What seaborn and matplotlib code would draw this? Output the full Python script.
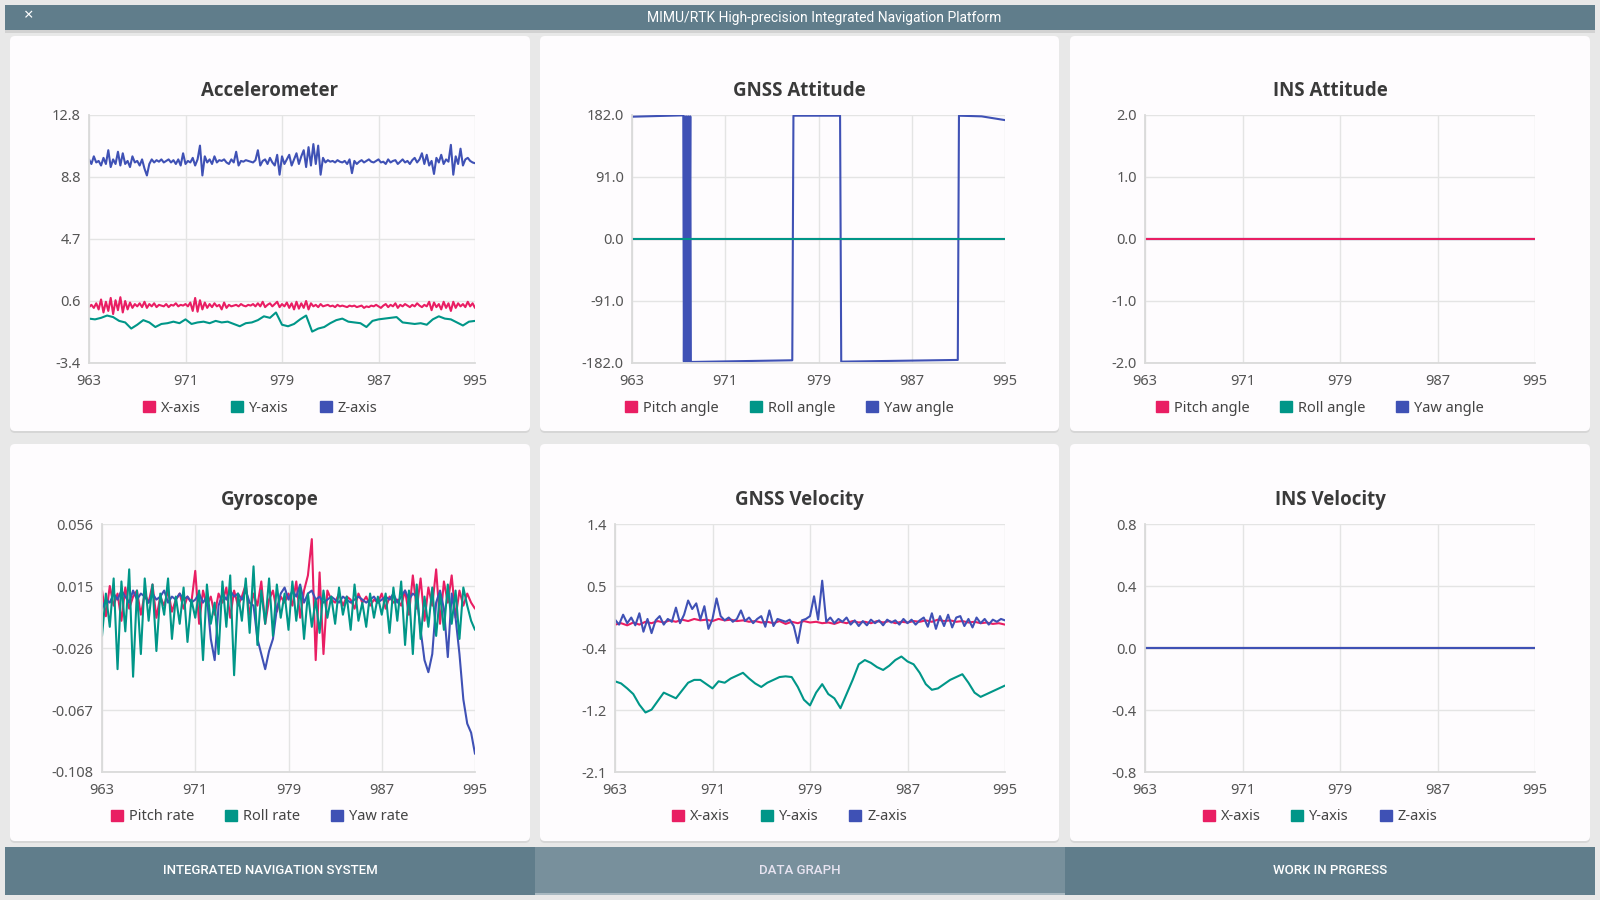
import numpy as np
import matplotlib
matplotlib.use("Agg")
import matplotlib.pyplot as plt
import seaborn as sns
from matplotlib.patches import FancyBboxPatch, Rectangle, Patch

# ---------------- data ----------------
x_ticks = [963, 971, 979, 987, 995]
x_labels = ["963", "971", "979", "987", "995"]

# Accelerometer (X and Z sampled every 0.2 s, Y every 0.5 s)
acc_yticks = [-3.4, 0.65, 4.7, 8.75, 12.8]
acc_ylabels = ["-3.4", "0.6", "4.7", "8.8", "12.8"]
acc_x = [0.25, 0.4, 0.2, 0.5, 0.1, 0.75, -0.1, 0.6, 0.0, 0.85,
         -0.2, 0.7, 0.05, 0.9, -0.1, 0.65, 0.1, 0.55, 0.2, 0.45,
         0.3, 0.5, 0.25, 0.6, 0.2, 0.45, 0.3, 0.5, 0.25, 0.4,
         0.35, 0.3, 0.45, 0.25, 0.4, 0.35, 0.5, 0.3, 0.4, 0.35,
         0.45, 0.3, 0.55, 0.0, 0.85, -0.05, 0.7, 0.1, 0.55, 0.2,
         0.45, 0.25, 0.5, 0.3, 0.4, 0.1, 0.55, 0.2, 0.4, 0.3,
         0.35, 0.4, 0.3, 0.45, 0.35, 0.3, 0.4, 0.35, 0.45, 0.3,
         0.5, 0.3, 0.6, 0.25, 0.4, 0.5, 0.3, 0.45, 0.6, 0.25,
         0.45, 0.3, 0.55, 0.2, 0.5, 0.1, 0.6, 0.15, 0.5, 0.2,
         0.65, 0.1, 0.5, 0.3, 0.4, 0.25, 0.45, 0.3, 0.35, 0.4,
         0.3, 0.35, 0.25, 0.4, 0.3, 0.35, 0.3, 0.25, 0.35, 0.3,
         0.35, 0.25, 0.3, 0.35, 0.2, 0.3, 0.25, 0.35, 0.3, 0.4,
         0.3, 0.2, 0.35, 0.45, 0.25, 0.4, 0.3, 0.5, 0.2, 0.4,
         0.3, 0.45, 0.35, 0.25, 0.4, 0.3, 0.5, 0.35, 0.25, 0.4,
         0.3, 0.6, 0.05, 0.55, 0.25, 0.45, 0.1, 0.6, 0.2, 0.5,
         0.0, 0.6, 0.2, 0.5, 0.3, 0.45, 0.25, 0.6, 0.3, 0.5,
         0.2]
acc_y = [-0.50, -0.55, -0.45, -0.30, -0.40, -0.65, -0.75, -1.15, -0.90, -0.60,
         -0.75, -1.05, -0.85, -0.80, -0.70, -0.80, -0.55, -0.85, -0.75, -0.70,
         -0.80, -0.65, -0.75, -0.70, -0.85, -1.00, -0.80, -0.75, -0.60, -0.35,
         -0.45, -0.10, -0.90, -1.00, -0.85, -0.55, -0.30, -1.35, -1.15, -1.05,
         -0.80, -0.60, -0.50, -0.70, -0.75, -0.80, -1.05, -0.65, -0.55, -0.50,
         -0.45, -0.40, -0.75, -0.80, -0.85, -0.80, -0.90, -0.55, -0.35, -0.50,
         -0.55, -0.75, -0.95, -0.70, -0.65]
acc_z = [9.9, 9.6, 10.1, 9.7, 9.8, 9.5, 10.0, 9.6, 10.5, 9.4,
         9.9, 9.6, 10.4, 9.5, 10.3, 9.6, 9.8, 9.4, 10.1, 9.7,
         9.8, 9.5, 9.9, 9.3, 8.85, 9.6, 9.9, 9.7, 9.85, 9.75,
         9.9, 9.7, 9.8, 9.9, 9.7, 9.85, 9.6, 9.9, 9.5, 10.3,
         9.6, 9.8, 9.7, 10.0, 9.5, 9.9, 10.8, 8.85, 10.1, 9.7,
         9.9, 9.6, 10.1, 9.7, 9.85, 9.8, 9.9, 9.7, 9.6, 9.9,
         9.7, 10.4, 9.5, 9.8, 9.75, 9.85, 9.8, 9.75, 9.7, 9.85,
         10.5, 9.5, 9.8, 9.9, 9.6, 10.0, 9.7, 9.5, 10.2, 8.9,
         10.1, 9.6, 9.9, 10.2, 9.5, 9.9, 10.3, 9.6, 10.1, 10.5,
         9.4, 10.7, 9.5, 10.9, 9.6, 10.8, 8.9, 10.0, 9.7, 9.85,
         9.75, 9.8, 9.7, 9.85, 9.75, 9.7, 9.8, 9.6, 9.9, 9.0,
         9.8, 9.6, 9.75, 9.85, 9.7, 9.8, 9.9, 9.75, 9.7, 9.8,
         9.9, 9.7, 9.75, 9.6, 9.9, 9.7, 9.8, 9.85, 9.6, 9.75,
         9.9, 9.7, 9.8, 9.6, 9.85, 10.0, 9.7, 9.9, 10.3, 9.6,
         10.2, 9.5, 9.8, 8.95, 10.0, 9.7, 10.2, 9.6, 9.9, 9.75,
         10.85, 8.9, 10.1, 9.6, 10.6, 9.5, 9.9, 10.0, 9.8, 9.7,
         9.65]

# GNSS attitude
gatt_yticks = [-182.0, -91.0, 0.0, 91.0, 182.0]
gatt_ylabels = ["-182.0", "-91.0", "0.0", "91.0", "182.0"]
gatt_flat_t = [963.0, 995.0]
gatt_pitch = [0.0, 0.0]
gatt_roll = [0.0, 0.0]
gatt_yaw_t = [963.0, 967.4, 967.45, 967.55, 967.6, 967.7, 967.75, 967.85, 967.9,
              968.0, 968.05, 976.75, 976.85, 980.85, 980.95, 990.95, 991.05,
              993.0, 995.0]
gatt_yaw = [179.5, 181.5, -180.0, 180.0, -180.0, 180.0, -180.0, 180.0, -180.0,
            180.0, -180.5, -178.0, 181.0, 181.0, -180.0, -177.5, 181.0,
            180.0, 174.5]

# INS attitude
iatt_yticks = [-2.0, -1.0, 0.0, 1.0, 2.0]
iatt_ylabels = ["-2.0", "-1.0", "0.0", "1.0", "2.0"]
iatt_t = [963.0, 995.0]
iatt_pitch = [0.0, 0.0]
iatt_roll = [0.0, 0.0]
iatt_yaw = [0.0, 0.0]

# Gyroscope
gyr_yticks = [-0.108, -0.067, -0.026, 0.015, 0.056]
gyr_ylabels = ["-0.108", "-0.067", "-0.026", "0.015", "0.056"]
gyr_pitch = [0.012, -0.005, 0.015, 0.002, 0.010, -0.008, 0.014, 0.000, 0.008, 0.012, -0.004, 0.010,
             0.004, 0.016, -0.006, 0.008, 0.002, 0.012, -0.002, 0.006, 0.010, 0.000, 0.008, 0.004,
             0.025, -0.010, 0.012, 0.002, 0.008, -0.004, 0.010, 0.004, 0.014, -0.006, 0.012, 0.002,
             0.008, 0.016, -0.004, 0.010, 0.002, 0.018, -0.010, 0.006, 0.012, -0.002, 0.008, 0.004,
             0.010, 0.002, 0.018, -0.006, 0.012, 0.022, 0.046, -0.034, 0.024, -0.030, 0.012, 0.006,
             0.004, 0.010, 0.002, 0.008, 0.006, 0.000, 0.010, 0.004, 0.008, 0.002, 0.006, 0.004,
             0.010, 0.000, 0.008, 0.004, 0.006, 0.002, 0.012, -0.004, 0.022, 0.000, 0.020, -0.008,
             0.014, 0.002, 0.026, -0.010, 0.018, 0.004, 0.022, -0.006, 0.012, 0.002, 0.010, 0.004, 0.000]
gyr_roll = [-0.018, 0.010, -0.012, 0.020, -0.040, 0.018, -0.015, 0.026, -0.045, 0.012, -0.030, 0.020,
            -0.008, 0.016, -0.028, 0.010, -0.004, 0.020, -0.020, 0.008, -0.010, 0.014, -0.022, 0.006,
            -0.006, 0.012, -0.034, 0.016, -0.010, 0.004, -0.030, 0.018, -0.012, 0.022, -0.044, 0.010,
            -0.008, 0.020, -0.016, 0.028, -0.024, 0.012, -0.010, 0.020, -0.018, 0.016, -0.006, 0.010,
            -0.014, 0.018, -0.008, 0.014, -0.020, 0.010, -0.012, 0.006, -0.016, 0.012, -0.006, 0.008,
            -0.010, 0.014, -0.004, 0.008, -0.014, 0.016, -0.008, 0.004, -0.012, 0.010, -0.006, 0.008,
            -0.004, 0.010, -0.016, 0.014, -0.008, 0.018, -0.024, 0.012, -0.030, 0.016, -0.020, 0.008,
            -0.012, 0.014, -0.018, 0.010, -0.014, 0.016, -0.010, 0.012, -0.020, 0.014, 0.002, -0.008, -0.014]
gyr_yaw = [0.000, 0.006, 0.004, 0.010, 0.006, 0.012, 0.008, 0.004, 0.012, 0.006, 0.010, 0.008,
           0.004, 0.010, 0.006, 0.008, 0.012, 0.004, 0.008, 0.006, 0.010, 0.006, 0.008, 0.004,
           0.006, 0.010, 0.004, 0.008, -0.020, -0.034, 0.002, 0.010, 0.006, 0.012, 0.008, 0.010,
           0.006, 0.012, 0.004, 0.002, -0.020, -0.030, -0.040, -0.028, -0.020, 0.000, 0.010, 0.014,
           0.006, 0.012, 0.008, 0.016, 0.004, 0.010, 0.012, 0.006, 0.008, 0.004, 0.006, 0.008,
           0.006, 0.004, 0.008, 0.006, 0.004, 0.006, 0.008, 0.006, 0.004, 0.006, 0.008, 0.004,
           0.006, 0.008, 0.006, 0.010, 0.004, 0.008, 0.012, 0.006, 0.010, 0.008, -0.014, -0.034,
           -0.042, -0.030, 0.004, 0.012, 0.000, -0.032, 0.010, -0.006, -0.030, -0.060, -0.076, -0.082, -0.096]

# GNSS velocity
gvel_yticks = [-2.1, -1.225, -0.35, 0.525, 1.4]
gvel_ylabels = ["-2.1", "-1.2", "-0.4", "0.5", "1.4"]
gvel_x = [-0.02, 0.00, -0.03, 0.01, -0.02, 0.02, 0.00, 0.03, 0.01, 0.04, 0.02, 0.05, 0.03,
          0.06, 0.04, 0.05, 0.03, 0.06, 0.04, 0.05, 0.03, 0.04, 0.02, 0.03, 0.01, 0.02,
          0.00, 0.03, -0.01, 0.02, 0.00, 0.03, 0.01, 0.02, 0.00, 0.01, -0.01, 0.02, 0.00,
          0.03, 0.01, 0.02, 0.00, 0.03, 0.01, 0.03, 0.00, 0.02, 0.01, 0.03, 0.02, 0.04,
          0.02, 0.05, 0.03, 0.04, 0.02, 0.03, 0.01, 0.02, 0.00, 0.01, -0.01, 0.00, -0.02]
gvel_y = [-0.82, -0.85, -0.92, -1.00, -1.15, -1.26, -1.22, -1.10, -0.98, -1.02, -1.06,
          -0.95, -0.84, -0.80, -0.80, -0.86, -0.92, -0.82, -0.84, -0.78, -0.74, -0.70,
          -0.78, -0.85, -0.90, -0.84, -0.80, -0.76, -0.75, -0.76, -0.90, -1.08, -1.16,
          -0.98, -0.86, -1.00, -1.06, -1.20, -1.00, -0.80, -0.58, -0.52, -0.56, -0.62,
          -0.66, -0.60, -0.52, -0.47, -0.54, -0.58, -0.70, -0.86, -0.94, -0.92, -0.86,
          -0.80, -0.76, -0.72, -0.84, -0.98, -1.04, -1.00, -0.96, -0.92, -0.88]
gvel_z = [0.05, -0.02, 0.12, 0.00, 0.08, -0.03, 0.14, -0.12, 0.06, -0.14, 0.04, 0.10,
          -0.02, 0.06, 0.02, 0.22, 0.00, 0.12, 0.32, 0.20, 0.28, 0.05, 0.24, -0.08,
          0.06, 0.35, 0.10, 0.04, 0.08, 0.02, 0.06, 0.18, 0.03, 0.08, 0.00, 0.06,
          0.10, -0.05, 0.18, -0.04, 0.06, 0.04, 0.02, 0.05, -0.04, -0.28, 0.04, 0.06,
          0.10, 0.38, 0.05, 0.60, 0.02, 0.08, 0.00, 0.06, 0.02, 0.08, -0.02, 0.04,
          -0.04, 0.03, -0.03, 0.05, 0.00, 0.04, -0.03, 0.05, 0.01, 0.04, -0.02, 0.06,
          0.00, 0.05, -0.02, 0.04, 0.08, -0.05, 0.14, -0.08, 0.10, -0.04, 0.12, -0.06,
          0.08, 0.10, -0.04, 0.06, -0.06, 0.08, 0.00, 0.06, -0.02, 0.05, 0.02, 0.06, 0.04]

# INS velocity
ivel_yticks = [-0.8, -0.4, 0.0, 0.4, 0.8]
ivel_ylabels = ["-0.8", "-0.4", "0.0", "0.4", "0.8"]
ivel_t = [963.0, 995.0]
ivel_x = [0.0, 0.0]
ivel_y = [0.0, 0.0]
ivel_z = [0.0, 0.0]

# ---------------- style ----------------
PINK, TEAL, INDIGO = "#e91e63", "#009688", "#3f51b5"
BAR = "#607d8b"
BAR_LIGHT = "#78909c"
CARD = "#fefcfe"
BG = "#e8e8e8"
GRID = "#e4e4e4"

sns.set_style("white")
plt.rcParams["font.family"] = ["Noto Sans", "DejaVu Sans"]
TITLE_FONT = ["Open Sans", "Noto Sans", "DejaVu Sans"]
UI_FONT = ["Roboto", "DejaVu Sans"]

W, H = 1600, 900
fig = plt.figure(figsize=(16, 9), dpi=100, facecolor=BG)

bg = fig.add_axes([0, 0, 1, 1], zorder=0)
bg.set_xlim(0, W)
bg.set_ylim(H, 0)
bg.axis("off")

# top title bar
bg.add_patch(Rectangle((5, 30), 1590, 3, color="#d2d2d2", lw=0))
bg.add_patch(Rectangle((5, 5), 1590, 25, color=BAR, lw=0))
bg.text(29, 16.5, "\u00d7", color="white", fontsize=12, ha="center", va="center",
        fontweight="bold")
bg.text(824, 18, "MIMU/RTK High-precision Integrated Navigation Platform", color="white",
        fontsize=10, ha="center", va="center", family=UI_FONT)

# cards
card_cols = [(10, 530), (540, 1059), (1070, 1590)]
card_rows = [(36, 431), (444, 841)]
for (cx0, cx1) in card_cols:
    for (cy0, cy1) in card_rows:
        bg.add_patch(FancyBboxPatch((cx0, cy0 + 2), cx1 - cx0, cy1 - cy0,
                                    boxstyle="round,pad=0,rounding_size=5",
                                    fc="#cacaca", ec="none", alpha=0.6))
        bg.add_patch(FancyBboxPatch((cx0, cy0), cx1 - cx0, cy1 - cy0,
                                    boxstyle="round,pad=0,rounding_size=5",
                                    fc=CARD, ec="none"))

# bottom nav bar
nav = [("INTEGRATED NAVIGATION SYSTEM", 5, 535, BAR, "white"),
       ("DATA GRAPH", 535, 1065, BAR_LIGHT, "#e6e3f0"),
       ("WORK IN PRGRESS", 1065, 1595, BAR, "white")]
for label, nx0, nx1, col, tcol in nav:
    bg.add_patch(Rectangle((nx0, 847), nx1 - nx0, 48, color=col, lw=0))
    bg.text((nx0 + nx1) / 2, 871, label, color=tcol, fontsize=9.5, ha="center",
            va="center", fontweight="medium", family=UI_FONT)
bg.add_patch(Rectangle((535, 893), 530, 2, color="#a8b8c0", lw=0))


def px_axes(x0, x1, y0, y1):
    return fig.add_axes([x0 / W, 1 - y1 / H, (x1 - x0) / W, (y1 - y0) / H], zorder=2)


def panel(rect, card, title, series, yticks, ylabels, legend_labels, title_y, legend_y):
    ax = px_axes(*rect)
    ax.set_facecolor(CARD)
    for t, v, c in series:
        sns.lineplot(x=t, y=v, color=c, linewidth=1.5, ax=ax, sort=False,
                     estimator=None)
    ax.set_xlim(x_ticks[0], x_ticks[-1])
    ax.set_ylim(yticks[0], yticks[-1])
    ax.set_xticks(x_ticks)
    ax.set_xticklabels(x_labels)
    ax.set_yticks(yticks)
    ax.set_yticklabels(ylabels)
    ax.grid(True, color=GRID, linewidth=1)
    for s in ["top", "right"]:
        ax.spines[s].set_visible(False)
    for s in ["left", "bottom"]:
        ax.spines[s].set_color("#dadada")
        ax.spines[s].set_linewidth(1.3)
    ax.tick_params(axis="both", length=5, width=1, color=GRID, labelsize=10.5,
                   labelcolor="#555555")
    ax.tick_params(axis="x", pad=3)
    ax.tick_params(axis="y", pad=1)
    ax.set_xlabel("")
    ax.set_ylabel("")
    cxm = (card[0] + card[1]) / 2
    fig.text(cxm / W, 1 - title_y / H, title, ha="center", va="center", fontsize=13.5,
             fontweight="bold", color="#3a3a3a", family=TITLE_FONT)
    handles = [Patch(facecolor=c, edgecolor=c) for c in (PINK, TEAL, INDIGO)]
    fig.legend(handles, legend_labels, loc="center",
               bbox_to_anchor=((cxm - 10) / W, 1 - legend_y / H),
               ncol=3, frameon=False, handlelength=0.82, handleheight=0.82,
               handletextpad=0.42, columnspacing=2.1, fontsize=10.5, labelcolor="#444444")
    return ax


xyz = ["X-axis", "Y-axis", "Z-axis"]
angles = ["Pitch angle", "Roll angle", "Yaw angle"]
rates = ["Pitch rate", "Roll rate", "Yaw rate"]

panel((89, 475, 115, 363), card_cols[0], "Accelerometer",
      [(np.linspace(963, 995, len(acc_y)), acc_y, TEAL),
       (np.linspace(963, 995, len(acc_z)), acc_z, INDIGO),
       (np.linspace(963, 995, len(acc_x)), acc_x, PINK)],
      acc_yticks, acc_ylabels, xyz, 91, 408)

panel((632, 1005, 115, 363), card_cols[1], "GNSS Attitude",
      [(gatt_flat_t, gatt_pitch, PINK),
       (gatt_yaw_t, gatt_yaw, INDIGO),
       (gatt_flat_t, gatt_roll, TEAL)],
      gatt_yticks, gatt_ylabels, angles, 91, 408)

panel((1145, 1535, 115, 363), card_cols[2], "INS Attitude",
      [(iatt_t, iatt_yaw, INDIGO), (iatt_t, iatt_roll, TEAL), (iatt_t, iatt_pitch, PINK)],
      iatt_yticks, iatt_ylabels, angles, 91, 408)

panel((102, 475, 524, 772), card_cols[0], "Gyroscope",
      [(np.linspace(963, 995, len(gyr_pitch)), gyr_pitch, PINK),
       (np.linspace(963, 995, len(gyr_yaw)), gyr_yaw, INDIGO),
       (np.linspace(963, 995, len(gyr_roll)), gyr_roll, TEAL)],
      gyr_yticks, gyr_ylabels, rates, 500, 817)

panel((615, 1005, 524, 772), card_cols[1], "GNSS Velocity",
      [(np.linspace(963, 995, len(gvel_y)), gvel_y, TEAL),
       (np.linspace(963, 995, len(gvel_x)), gvel_x, PINK),
       (np.linspace(963, 995, len(gvel_z)), gvel_z, INDIGO)],
      gvel_yticks, gvel_ylabels, xyz, 500, 817)

panel((1145, 1535, 524, 772), card_cols[2], "INS Velocity",
      [(ivel_t, ivel_x, PINK), (ivel_t, ivel_y, TEAL), (ivel_t, ivel_z, INDIGO)],
      ivel_yticks, ivel_ylabels, xyz, 500, 817)

fig.savefig("out.png", dpi=100, facecolor=BG)
